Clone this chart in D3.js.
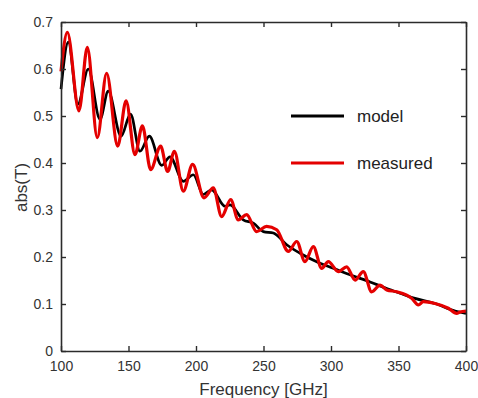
<!DOCTYPE html>
<html>
<head>
<meta charset="utf-8">
<script src="https://cdn.jsdelivr.net/npm/d3@7"></script>
<style>
  body { margin: 0; background: #fff; }
  svg { display: block; font-family: "Liberation Sans", Arial, sans-serif; }
</style>
</head>
<body>
<script>
// model (black) curve
var modelFreq = [100, 105.4, 112.5, 120.2, 128.9, 135, 144.5, 151.5, 158.5, 165.4, 174.6, 180.7, 190.6, 198, 205.4, 211.6, 221.5, 225.2, 235, 242.5, 249.9, 257.3, 267.2, 277, 289.4, 301.7, 314.1, 328.9, 341.3, 351.1, 362.2, 377, 391.9, 400]
var modelAbs = [0.557, 0.657, 0.525, 0.600, 0.493, 0.553, 0.457, 0.504, 0.425, 0.457, 0.395, 0.413, 0.361, 0.375, 0.333, 0.343, 0.308, 0.311, 0.279, 0.272, 0.254, 0.251, 0.226, 0.208, 0.190, 0.176, 0.162, 0.147, 0.133, 0.123, 0.112, 0.101, 0.085, 0.080]

// measured (red) curve
var measFreq = [100, 104.7, 113.3, 119.5, 126.9, 133.8, 142, 148.2, 154.8, 160.3, 166.4, 173.8, 179, 184, 190.6, 197.5, 205.9, 212.8, 219, 225.7, 231.3, 237.5, 244.9, 252.3, 259.8, 268.4, 274.6, 280.7, 286.9, 293.1, 298, 305.4, 311.6, 317.8, 323.9, 330.1, 336.3, 341.3, 348.7, 359.8, 364.7, 368.4, 377, 386.9, 393.1, 395.6, 400]
var measAbs = [0.595, 0.678, 0.511, 0.646, 0.454, 0.591, 0.436, 0.532, 0.418, 0.479, 0.386, 0.436, 0.382, 0.425, 0.340, 0.397, 0.326, 0.347, 0.286, 0.322, 0.279, 0.290, 0.254, 0.265, 0.258, 0.212, 0.233, 0.190, 0.222, 0.176, 0.190, 0.169, 0.179, 0.151, 0.169, 0.126, 0.140, 0.130, 0.126, 0.112, 0.098, 0.105, 0.101, 0.091, 0.080, 0.083, 0.085]

var xTicks = [100, 150, 200, 250, 300, 350, 400]
var yTicks = [0, 0.1, 0.2, 0.3, 0.4, 0.5, 0.6, 0.7]
var legendNames = ['model', 'measured']
var colors = ['#000000', '#e40000']

var W = 478
var H = 398
var margin = { left: 61, right: 12, top: 22, bottom: 47 }
var axisColor = '#2b2b2b'

var svg = d3.select('body').append('svg')
  .attr('width', W)
  .attr('height', H)

var x = d3.scaleLinear().domain([100, 400]).range([margin.left, W - margin.right])
var y = d3.scaleLinear().domain([0, 0.7]).range([H - margin.bottom, margin.top])

var line = d3.line()
  .x(function (d) { return x(d[0]) })
  .y(function (d) { return y(d[1]) })
  .curve(d3.curveMonotoneX)

var model = d3.zip(modelFreq, modelAbs)
var meas = d3.zip(measFreq, measAbs)

// data lines (measured on top)
svg.append('path')
  .datum(model)
  .attr('d', line)
  .attr('fill', 'none')
  .attr('stroke', colors[0])
  .attr('stroke-width', 2.7)

svg.append('path')
  .datum(meas)
  .attr('d', line)
  .attr('fill', 'none')
  .attr('stroke', colors[1])
  .attr('stroke-width', 3.2)

// axes, ticks pointing inward on all four sides
var axBottom = svg.append('g')
  .attr('transform', 'translate(0,' + y(0) + ')')
  .call(d3.axisBottom(x).tickValues(xTicks).tickSize(-5).tickSizeOuter(0).tickPadding(10).tickFormat(d3.format('d')))
var axLeft = svg.append('g')
  .attr('transform', 'translate(' + x(100) + ',0)')
  .call(d3.axisLeft(y).tickValues(yTicks).tickSize(-5).tickSizeOuter(0).tickPadding(8).tickFormat(function (d) { return d === 0 ? '0' : d3.format('.1f')(d) }))
var axTop = svg.append('g')
  .attr('transform', 'translate(0,' + y(0.7) + ')')
  .call(d3.axisTop(x).tickValues(xTicks).tickSize(-5).tickSizeOuter(0).tickFormat(''))
var axRight = svg.append('g')
  .attr('transform', 'translate(' + x(400) + ',0)')
  .call(d3.axisRight(y).tickValues(yTicks).tickSize(-5).tickSizeOuter(0).tickFormat(''))

;[axBottom, axLeft, axTop, axRight].forEach(function (g) {
  g.select('.domain').attr('stroke', axisColor).attr('stroke-width', 1.6)
  g.selectAll('.tick line').attr('stroke', axisColor).attr('stroke-width', 1.4)
  g.selectAll('.tick text').attr('fill', '#333').style('font-size', '14px')
    .style('font-family', '"Liberation Sans", Arial, sans-serif')
})

// axis labels
svg.append('text')
  .attr('x', (x(100) + x(400)) / 2)
  .attr('y', 395)
  .attr('text-anchor', 'middle')
  .attr('fill', '#333')
  .style('font-size', '17px')
  .text('Frequency [GHz]')

svg.append('text')
  .attr('transform', 'translate(27,' + (y(0.35) + 1) + ') rotate(-90)')
  .attr('text-anchor', 'middle')
  .attr('fill', '#333')
  .style('font-size', '17px')
  .text('abs(T)')

// legend
var legend = svg.append('g')
legendNames.forEach(function (name, i) {
  var ly = 116 + i * 47
  legend.append('line')
    .attr('x1', 291).attr('x2', 344)
    .attr('y1', ly).attr('y2', ly)
    .attr('stroke', colors[i])
    .attr('stroke-width', 3)
  legend.append('text')
    .attr('x', 357)
    .attr('y', ly)
    .attr('dy', '0.35em')
    .attr('fill', '#222')
    .style('font-size', '17px')
    .text(name)
})
</script>
</body>
</html>
